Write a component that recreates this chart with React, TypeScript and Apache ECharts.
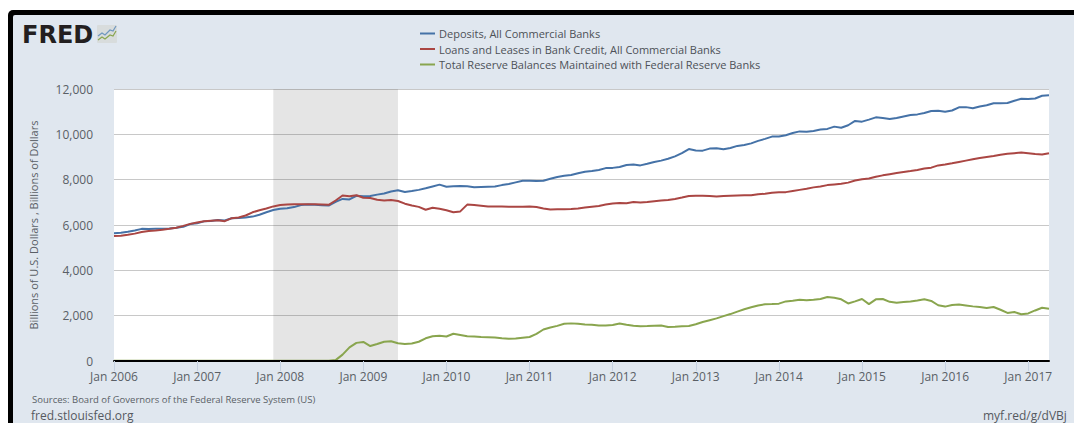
import React, { useEffect, useRef } from "react";
import * as echarts from "echarts";

const months = ["Jan", "Feb", "Mar", "Apr", "May", "Jun", "Jul", "Aug", "Sep", "Oct", "Nov", "Dec"];
const years = [2006, 2007, 2008, 2009, 2010, 2011, 2012, 2013, 2014, 2015, 2016, 2017];
const categories = years.flatMap((y) => months.map((m) => `${m} ${y}`)).slice(0, 136);

const deposits = [
  5640, 5660, 5700, 5760, 5830, 5820, 5830, 5840, 5850, 5880, 5920, 6040,
  6080, 6160, 6180, 6220, 6200, 6300, 6310, 6330, 6370, 6450, 6560, 6660,
  6720, 6740, 6790, 6880, 6900, 6890, 6870, 6860, 7020, 7150, 7130, 7290,
  7270, 7280, 7340, 7390, 7480, 7530, 7460, 7500, 7550, 7620, 7700, 7780,
  7690, 7710, 7720, 7710, 7670, 7680, 7690, 7700, 7760, 7810, 7880, 7950,
  7950, 7940, 7950, 8040, 8120, 8170, 8210, 8280, 8350, 8380, 8430, 8510,
  8520, 8560, 8650, 8670, 8630, 8700, 8780, 8840, 8920, 9030, 9170, 9350,
  9290, 9280, 9370, 9390, 9340, 9400, 9490, 9530, 9600, 9710, 9800, 9900,
  9900, 9960, 10060, 10130, 10110, 10150, 10210, 10240, 10340, 10290, 10400, 10590,
  10560, 10650, 10750, 10720, 10680, 10720, 10790, 10850, 10880, 10940, 11030, 11040,
  11000, 11050, 11190, 11200, 11150, 11230, 11280, 11370, 11370, 11380, 11480, 11570,
  11560, 11580, 11700, 11720,
];

const loans = [
  5510, 5530, 5570, 5620, 5690, 5740, 5760, 5790, 5830, 5880, 5960, 6050,
  6110, 6170, 6190, 6210, 6170, 6300, 6330, 6420, 6560, 6650, 6730, 6820,
  6880, 6900, 6910, 6920, 6910, 6910, 6900, 6890, 7080, 7300, 7270, 7310,
  7200, 7190, 7110, 7080, 7100, 7060, 6940, 6860, 6800, 6675, 6760, 6720,
  6650, 6560, 6600, 6900, 6880, 6850, 6820, 6820, 6820, 6810, 6800, 6800,
  6820, 6790, 6730, 6680, 6690, 6700, 6710, 6730, 6770, 6810, 6840, 6900,
  6950, 6970, 6960, 7010, 6990, 7010, 7050, 7080, 7100, 7150, 7210, 7280,
  7290, 7290, 7280, 7260, 7280, 7290, 7300, 7310, 7310, 7360, 7380, 7420,
  7440, 7450, 7500, 7550, 7600, 7660, 7700, 7760, 7790, 7820, 7870, 7960,
  8020, 8050, 8130, 8190, 8240, 8290, 8340, 8380, 8430, 8490, 8530, 8630,
  8670, 8720, 8780, 8840, 8900, 8960, 9000, 9040, 9100, 9140, 9170, 9200,
  9170, 9130, 9110, 9170,
];

const reserves = [
  15, 15, 15, 15, 15, 15, 15, 15, 15, 15, 15, 15,
  15, 15, 15, 15, 15, 15, 15, 15, 15, 15, 15, 15,
  15, 15, 15, 15, 15, 15, 15, 15, 40, 280, 600, 800,
  840, 660, 750, 850, 870, 780, 750, 770, 850, 1000, 1090, 1110,
  1080, 1200, 1150, 1090, 1080, 1060, 1050, 1040, 1000, 980, 990, 1030,
  1060, 1200, 1390, 1480, 1550, 1640, 1660, 1640, 1610, 1600, 1570, 1570,
  1590, 1650, 1600, 1560, 1530, 1540, 1560, 1570, 1500, 1510, 1530, 1545,
  1620, 1720, 1800, 1880, 1980, 2070, 2180, 2280, 2370, 2450, 2500, 2510,
  2530, 2630, 2660, 2700, 2680, 2700, 2735, 2820, 2790, 2720, 2540, 2630,
  2735, 2510, 2720, 2735, 2610, 2570, 2600, 2630, 2670, 2720, 2650, 2460,
  2400, 2470, 2490, 2450, 2410, 2380, 2340, 2380, 2260, 2120, 2160, 2060,
  2100, 2230, 2350, 2310,
];

const seriesNames = [
  "Deposits, All Commercial Banks",
  "Loans and Leases in Bank Credit, All Commercial Banks",
  "Total Reserve Balances Maintained with Federal Reserve Banks",
];
const recession = ["Dec 2007", "Jun 2009"];
const yAxisTitle = "Billions of U.S. Dollars , Billions of Dollars";
const sourceText = "Sources: Board of Governors of the Federal Reserve System (US)";
const siteText = "fred.stlouisfed.org";
const linkText = "myf.red/g/dVBj";

const FONT = "'Open Sans', sans-serif";
const TEXT = "#5a5f66";
const PANEL = "#e0e7ef";

export default function App() {
  const ref = useRef<HTMLDivElement>(null);
  useEffect(() => {
    const chart = echarts.init(ref.current!, undefined, { renderer: "svg" });
    const yearTick = (i: number) => i % 12 === 0;
    chart.setOption({
      animation: false,
      backgroundColor: "#ffffff",
      textStyle: { fontFamily: FONT },
      grid: { left: 114, right: 25, top: 89, bottom: 62, show: true, backgroundColor: "#ffffff", borderWidth: 0 },
      legend: {
        left: 415,
        top: 21,
        orient: "vertical",
        itemWidth: 15,
        itemHeight: 2,
        itemGap: 0.5,
        icon: "rect",
        selectedMode: false,
        data: seriesNames,
        textStyle: { fontFamily: FONT, fontSize: 11, color: "#4d5157", lineHeight: 15, padding: [0, 0, 0, -1] },
      },
      xAxis: {
        type: "category",
        boundaryGap: false,
        data: categories,
        z: 5,
        axisLine: { lineStyle: { color: "#000000", width: 2 } },
        axisTick: { show: true, interval: yearTick, length: 10, lineStyle: { color: "#c6d2e2", width: 1 } },
        axisLabel: { interval: yearTick, color: TEXT, fontFamily: FONT, fontSize: 12, margin: 9 },
        splitLine: { show: false },
      },
      yAxis: {
        type: "value",
        min: 0,
        max: 12000,
        interval: 2000,
        name: yAxisTitle,
        nameLocation: "middle",
        nameGap: 75,
        nameTextStyle: { color: TEXT, fontFamily: FONT, fontSize: 11 },
        axisLine: { show: false },
        axisTick: { show: false },
        axisLabel: {
          color: TEXT,
          fontFamily: FONT,
          fontSize: 12,
          margin: 21,
          formatter: (v: number) => v.toLocaleString("en-US"),
        },
        splitLine: { lineStyle: { color: "#c8c8c8", width: 1 } },
      },
      series: [
        {
          name: seriesNames[0],
          type: "line",
          data: deposits,
          showSymbol: false,
          lineStyle: { width: 2, color: "#4572a7" },
          itemStyle: { color: "#4572a7" },
          markArea: {
            silent: true,
            itemStyle: { color: "rgba(68,68,68,0.14)" },
            data: [[{ xAxis: recession[0] }, { xAxis: recession[1] }]],
          },
        },
        {
          name: seriesNames[1],
          type: "line",
          data: loans,
          showSymbol: false,
          lineStyle: { width: 2, color: "#aa4643" },
          itemStyle: { color: "#aa4643" },
        },
        {
          name: seriesNames[2],
          type: "line",
          data: reserves,
          showSymbol: false,
          lineStyle: { width: 2, color: "#89a54e" },
          itemStyle: { color: "#89a54e" },
        },
      ],
      graphic: [
        { type: "rect", z: -10, silent: true, shape: { x: 8, y: 10, width: 1080, height: 430, r: 5 }, style: { fill: "#000000" } },
        { type: "rect", z: -9, silent: true, shape: { x: 13, y: 15, width: 1070, height: 420, r: 2 }, style: { fill: PANEL } },
        { type: "text", z: 3, silent: true, x: 22, y: 23, style: { text: "FRED", fontFamily: "'DejaVu Sans'", fontWeight: "bold", fontSize: 24, fill: "#231f20" } },
        { type: "rect", z: 3, silent: true, shape: { x: 97, y: 25, width: 20, height: 18, r: 1 }, style: { fill: "#d8dcdc" } },
        { type: "polyline", z: 4, silent: true, shape: { points: [[98, 36], [102, 33], [105, 35], [110, 30], [113, 31], [116, 26]] }, style: { stroke: "#6f97bf", lineWidth: 1.2, fill: "none" } },
        { type: "polyline", z: 4, silent: true, shape: { points: [[98, 40], [102, 37], [105, 39], [110, 35], [113, 36], [116, 31]] }, style: { stroke: "#89a54e", lineWidth: 1.2, fill: "none" } },
        { type: "text", z: 3, silent: true, x: 32, y: 394, style: { text: sourceText, fontFamily: FONT, fontSize: 9.5, fill: TEXT } },
        { type: "text", z: 3, silent: true, x: 31, y: 409, style: { text: siteText, fontFamily: FONT, fontSize: 12, fill: "#55595f" } },
        { type: "text", z: 3, silent: true, x: 983, y: 409, style: { text: linkText, fontFamily: FONT, fontSize: 12, fill: "#55595f" } },
      ],
    });
    return () => chart.dispose();
  }, []);
  return <div ref={ref} style={{ position: "fixed", left: 0, top: 0, width: 1074, height: 423 }} />;
}
